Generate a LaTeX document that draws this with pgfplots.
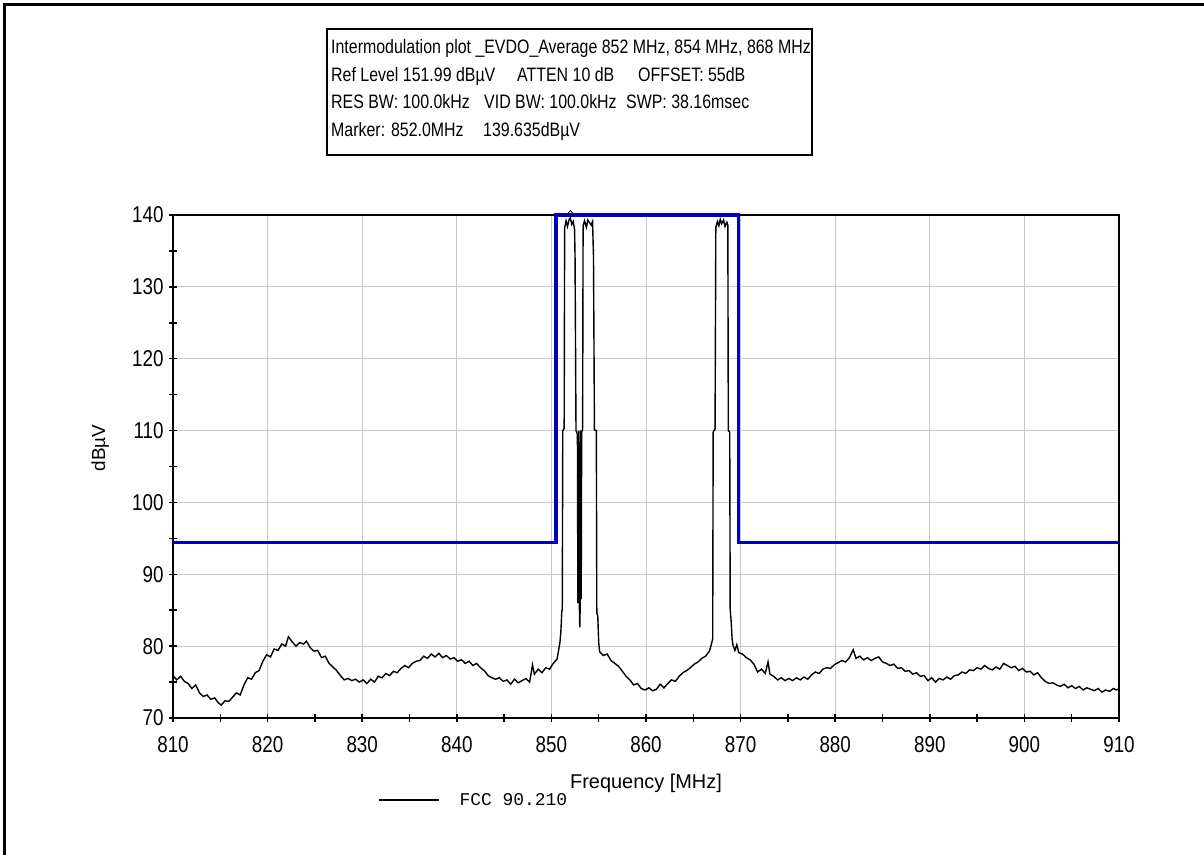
\documentclass[border=0pt]{standalone}
\usepackage{fontspec}
\setmainfont{Liberation Sans}
\newfontfamily\nar[FakeStretch=0.82]{Liberation Sans}
\newfontfamily\mono{Liberation Mono}
\usepackage{pgfplots}
\pgfplotsset{compat=1.18}
\definecolor{maskblue}{RGB}{0,0,190}
\definecolor{gridgray}{RGB}{200,200,200}

\begin{document}
\begin{tikzpicture}
\useasboundingbox (0bp,0bp) rectangle (1204bp,855bp);
\fill[white] (0bp,0bp) rectangle (1204bp,855bp);
\begin{scope}[x=1bp,y=1bp]
\draw[line width=3bp] (4.5,0) -- (4.5,850.5) -- (1204,850.5);
\draw[line width=1.5bp] (327,700) rectangle (812,826);
\begin{scope}[every node/.style={anchor=base west, inner sep=0pt, font=\nar\fontsize{19.5}{21}\selectfont}]
\node at (331,801) {Intermodulation plot \_EVDO\_Average 852 MHz, 854 MHz, 868 MHz};
\node at (331,773.5) {Ref Level 151.99 dBµV};
\node at (517,773.5) {ATTEN 10 dB};
\node at (638,773.5) {OFFSET: 55dB};
\node at (331,746) {RES BW: 100.0kHz};
\node at (484,746) {VID BW: 100.0kHz};
\node at (626,746) {SWP: 38.16msec};
\node at (331,718.5) {Marker: 852.0MHz};
\node at (483,718.5) {139.635dBµV};
\end{scope}
\end{scope}
\begin{axis}[
  at={(173bp,137bp)}, anchor=south west,
  scale only axis, width=946bp, height=503bp,
  xmin=810, xmax=910, ymin=70, ymax=140,
  xtick={810,820,...,910}, ytick={70,80,...,140},
  minor tick num=1,
  tick pos=left, tick align=center,
  major tick length=8bp, minor tick length=8bp,
  tick style={black, line width=1.5bp},
  grid=major, major grid style={gridgray, line width=1bp},
  axis line style={line width=2bp},
  clip=false,
  /pgf/number format/assume math mode=true,
  /pgf/number format/1000 sep={},
  ticklabel style={font=\nar\fontsize{23}{25}\selectfont},
  xticklabel style={yshift=-11bp},
  yticklabel style={xshift=-2bp},
  xlabel={Frequency [MHz]},
  xlabel style={at={(axis description cs:0.5,-0.129)}, anchor=center, font=\fontsize{20}{22}\selectfont},
  ylabel={dBµV},
  ylabel style={at={(axis description cs:-0.077,0.537)}, anchor=center, font=\fontsize{19}{21}\selectfont},
  legend style={at={(axis description cs:0.2167,-0.163)}, anchor=west, draw=none, fill=none,
    font=\mono\fontsize{18}{20}\selectfont, inner sep=0pt, nodes={inner sep=0pt},
    /tikz/every odd column/.append style={column sep=20bp}},
  legend image code/.code={\draw[#1] (0bp,0bp) -- (60bp,0bp);},
]
\addplot[black, line width=1.4bp] coordinates {
(810.0,75.9)(810.4,75.3)(810.8,75.8)(811.2,75.1)(811.6,74.8)(812.0,74.1)(812.4,74.6)(812.8,73.5)(813.2,73.0)(813.6,73.2)(814.0,72.6)(814.4,72.8)(814.8,72.1)(815.1,71.8)(815.5,72.4)(815.9,72.3)(816.3,72.9)(816.7,73.5)(817.1,73.2)(817.5,74.6)(817.9,75.6)(818.3,75.4)(818.7,76.3)(819.1,76.6)(819.5,77.9)(819.9,78.8)(820.3,78.5)(820.7,79.6)(821.1,79.4)(821.5,80.3)(821.9,80.0)(822.2,81.3)(822.6,80.6)(823.0,80.0)(823.4,80.5)(823.8,80.3)(824.1,80.7)(824.5,79.8)(824.9,79.3)(825.3,79.4)(825.7,78.4)(826.1,78.6)(826.5,77.6)(826.9,77.1)(827.3,76.6)(827.7,75.9)(828.1,75.3)(828.5,75.5)(828.9,75.2)(829.3,75.4)(829.7,75.0)(830.1,75.3)(830.5,74.8)(830.9,75.4)(831.3,75.0)(831.7,75.8)(832.1,75.6)(832.5,76.2)(832.9,75.9)(833.3,76.5)(833.7,76.3)(834.1,76.9)(834.5,77.3)(834.9,77.0)(835.3,77.6)(835.7,77.9)(836.1,78.0)(836.5,78.6)(836.9,78.3)(837.3,78.9)(837.7,78.5)(838.1,79.0)(838.5,78.4)(838.9,78.7)(839.3,78.2)(839.7,78.4)(840.1,77.9)(840.5,78.1)(840.9,77.6)(841.3,77.9)(841.7,77.3)(842.1,77.6)(842.5,77.0)(842.9,76.6)(843.3,75.9)(843.7,75.6)(844.1,75.4)(844.5,75.6)(844.9,75.1)(845.3,75.3)(845.7,74.7)(846.1,75.4)(846.5,74.9)(846.9,75.2)(847.3,75.5)(847.7,75.0)(848.0,77.4)(848.2,76.1)(848.6,76.8)(849.0,76.3)(849.4,77.0)(849.8,76.8)(850.2,77.6)(850.6,78.2)(850.9,80.5)(851.0,82.0)(851.1,84.8)(851.15,85.2)(851.2,110.0)(851.35,110.3)(851.4,138.2)(851.55,139.2)(851.7,138.4)(851.85,139.3)(852.0,139.6)(852.15,138.7)(852.3,139.1)(852.45,138.0)(852.5,134.0)(852.6,110.0)(852.75,109.5)(852.8,86.0)(852.9,110.0)(852.95,86.0)(853.0,82.6)(853.05,86.0)(853.1,110.0)(853.15,86.5)(853.2,109.8)(853.3,110.2)(853.35,138.5)(853.5,139.2)(853.7,138.3)(853.85,139.3)(854.0,139.0)(854.2,138.6)(854.35,139.1)(854.45,134.2)(854.55,110.1)(854.75,110.0)(854.8,84.6)(854.9,84.2)(855.0,80.5)(855.1,79.2)(855.5,78.7)(855.9,78.9)(856.3,78.0)(856.7,77.6)(857.1,77.2)(857.5,76.5)(857.9,75.8)(858.3,75.3)(858.7,74.6)(859.1,74.8)(859.5,74.1)(859.9,73.9)(860.3,74.2)(860.7,73.8)(861.1,74.0)(861.5,74.7)(861.9,74.2)(862.3,74.8)(862.7,75.3)(863.1,75.1)(863.5,75.8)(863.9,76.3)(864.3,76.6)(864.7,77.0)(865.1,77.5)(865.5,77.8)(865.9,78.3)(866.3,78.6)(866.7,79.3)(866.9,80.2)(867.05,81.0)(867.1,109.8)(867.3,110.2)(867.38,138.3)(867.55,139.1)(867.7,138.5)(867.85,139.4)(868.0,138.8)(868.2,139.3)(868.35,138.4)(868.55,139.0)(868.65,138.6)(868.7,110.0)(868.85,109.8)(868.9,85.1)(869.0,83.5)(869.1,81.0)(869.2,80.1)(869.4,79.4)(869.6,80.2)(869.8,79.1)(870.2,78.9)(870.6,78.4)(871.0,78.1)(871.4,77.5)(871.8,76.4)(872.2,76.8)(872.6,76.2)(872.9,77.8)(873.1,76.1)(873.5,75.8)(873.9,75.3)(874.3,75.6)(874.7,75.2)(875.1,75.5)(875.5,75.2)(875.9,75.6)(876.3,75.3)(876.7,75.7)(877.1,75.4)(877.5,76.0)(877.9,76.4)(878.3,76.2)(878.7,76.8)(879.1,77.0)(879.5,76.9)(879.9,77.4)(880.3,77.7)(880.7,78.0)(881.1,77.8)(881.5,78.4)(881.9,79.5)(882.2,78.3)(882.6,78.6)(883.0,78.1)(883.4,78.4)(883.8,78.0)(884.2,78.3)(884.6,78.5)(885.0,77.8)(885.4,77.6)(885.8,77.3)(886.2,77.5)(886.6,76.9)(887.0,77.0)(887.4,76.5)(887.8,76.6)(888.2,76.1)(888.6,76.3)(889.0,75.8)(889.4,75.9)(889.8,75.2)(890.2,75.6)(890.6,75.0)(891.0,75.5)(891.4,75.3)(891.8,75.7)(892.2,75.4)(892.6,75.9)(893.0,76.0)(893.4,76.4)(893.8,76.2)(894.2,76.7)(894.6,76.6)(895.0,77.0)(895.4,76.8)(895.8,77.3)(896.2,76.9)(896.6,76.7)(897.0,77.1)(897.4,76.8)(897.8,77.6)(898.2,77.3)(898.6,77.0)(899.0,77.2)(899.4,76.6)(899.8,76.9)(900.2,76.4)(900.6,76.5)(901.0,76.0)(901.4,76.3)(901.8,75.6)(902.2,75.1)(902.6,74.8)(903.0,74.9)(903.4,74.6)(903.8,74.4)(904.2,74.7)(904.6,74.2)(905.0,74.5)(905.4,74.1)(905.8,74.4)(906.2,73.9)(906.6,74.2)(907.0,74.0)(907.4,73.8)(907.8,74.1)(908.2,73.6)(908.6,73.9)(909.0,73.7)(909.4,74.1)(909.7,73.9)(910.0,74.1)
};
\addlegendentry{FCC 90.210}
\addplot[maskblue, line width=3.5bp, forget plot] coordinates {
(810,94.4)(850.5,94.4)(850.5,140)(869.8,140)(869.8,94.4)(910,94.4)
};
\addplot[black, only marks, mark=diamond, mark size=2.5bp, line width=0.8bp, forget plot] coordinates {(852.0,140.3)};
\end{axis}
\end{tikzpicture}
\end{document}
